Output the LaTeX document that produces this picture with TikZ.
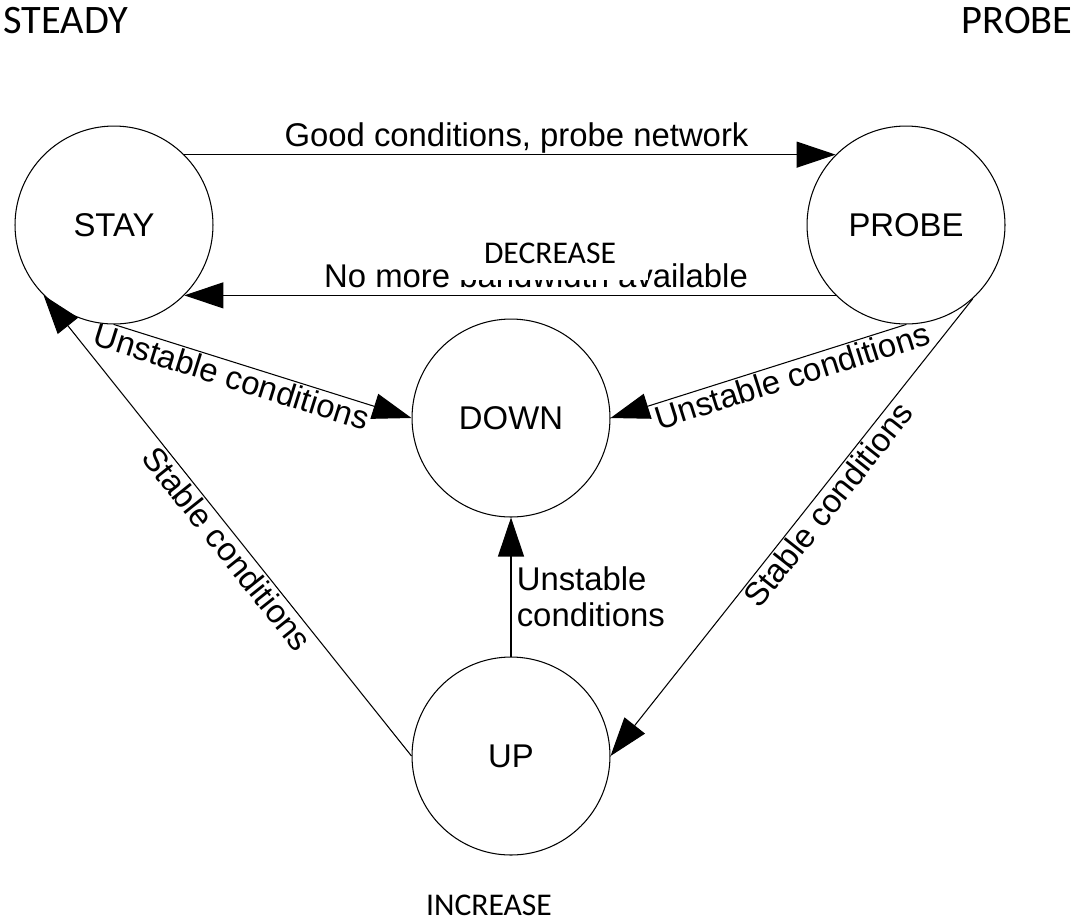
\documentclass[tikz,border=0pt]{standalone}
\usepackage{fontspec}
\setmainfont{Liberation Sans}
\newfontfamily\carlito{Carlito}
\usetikzlibrary{arrows.meta, positioning}

\begin{document}
\begin{tikzpicture}[x=0.02cm, y=0.02cm,
    every node/.style={font=\fontsize{18.7}{20.5}\selectfont},
    state/.style={draw, circle, line width=0.6pt, minimum size=3.96cm, inner sep=0pt},
    edge/.style={line width=0.6pt, -{Triangle[length=0.78cm, width=0.52cm]}},
    tag/.style={font=\carlito\fontsize{23}{26}\selectfont, inner sep=0pt},
    note/.style={font=\carlito\fontsize{18}{20}\selectfont, inner sep=0pt},
    cover/.style={note, fill=white, minimum width=3.92cm, minimum height=1.06cm}]
    \useasboundingbox (0,0) rectangle (1077,-921);
    \node[tag, anchor=base west] (steady) at (3,-33) {STEADY};
    \node[tag, anchor=base east] (probetag) at (1073,-33) {PROBE};
    \node[state] (stay) at (114,-225) {STAY};
    \node[state] (probe) at (906,-225) {PROBE};
    \node[state] (down) at (511,-418) {DOWN};
    \node[state] (up) at (511,-756) {UP};
    \draw[edge] (stay.45) -- node[above, pos=0.51, inner sep=0.5pt] {Good conditions, probe network} (probe.135);
    \draw[edge] (probe.-135) -- node[above, pos=0.46, inner sep=4pt] (nomore) {No more bandwidth available} (stay.-45);
    \node[cover] (decrease) at (550,-253) {DECREASE};
    \draw[edge] (stay.south) -- node[below, sloped, pos=0.41, inner sep=1pt] {Unstable conditions} (down.west);
    \draw[edge] (probe.south) -- node[below, sloped, pos=0.4, inner sep=1pt] {Unstable conditions} (down.east);
    \draw[edge] (probe.-48) -- node[below, sloped, pos=0.43, inner sep=1pt] {Stable conditions} (up.east);
    \draw[edge] (up.west) -- node[below, sloped, pos=0.47, inner sep=1pt] {Stable conditions} (stay.-135);
    \draw[edge] (up.north) -- node[right, pos=0.43, align=left, inner sep=3pt] {Unstable\\conditions} (down.south);
    \node[note, anchor=base] (increase) at (489,-915) {INCREASE};
\end{tikzpicture}
\end{document}
